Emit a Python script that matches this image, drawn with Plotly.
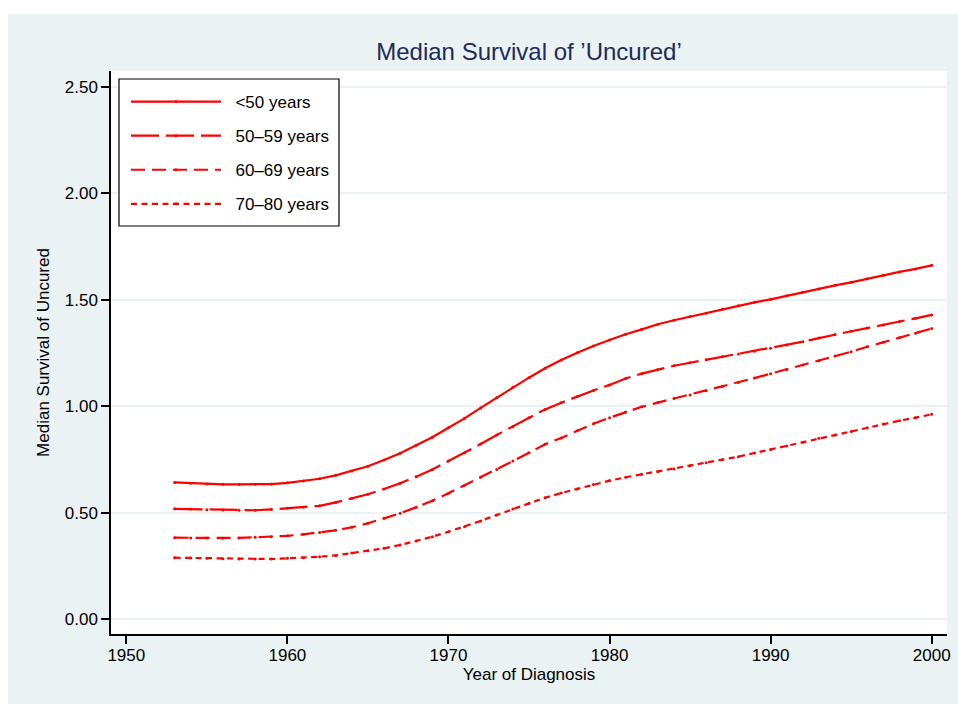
import plotly.graph_objects as go

years = list(range(1953, 2001))

under50 = [0.642, 0.638, 0.634, 0.633, 0.633, 0.633, 0.634, 0.640, 0.648, 0.659,
           0.675, 0.695, 0.718, 0.747, 0.779, 0.816, 0.854, 0.899, 0.943, 0.992,
           1.040, 1.089, 1.134, 1.178, 1.217, 1.251, 1.283, 1.311, 1.338, 1.361,
           1.385, 1.404, 1.421, 1.437, 1.455, 1.472, 1.488, 1.502, 1.519, 1.535,
           1.551, 1.568, 1.582, 1.599, 1.615, 1.631, 1.645, 1.662]

age50_59 = [0.518, 0.517, 0.514, 0.512, 0.511, 0.511, 0.515, 0.520, 0.525, 0.532,
            0.548, 0.566, 0.586, 0.611, 0.638, 0.669, 0.703, 0.742, 0.781, 0.822,
            0.865, 0.904, 0.946, 0.985, 1.016, 1.046, 1.074, 1.100, 1.130, 1.153,
            1.173, 1.190, 1.204, 1.218, 1.232, 1.245, 1.258, 1.272, 1.287, 1.303,
            1.320, 1.337, 1.352, 1.367, 1.381, 1.398, 1.413, 1.429]

age60_69 = [0.382, 0.381, 0.381, 0.380, 0.381, 0.384, 0.387, 0.391, 0.398, 0.406,
            0.417, 0.431, 0.450, 0.473, 0.497, 0.525, 0.556, 0.591, 0.628, 0.666,
            0.703, 0.742, 0.781, 0.821, 0.851, 0.885, 0.918, 0.946, 0.973, 0.997,
            1.017, 1.036, 1.053, 1.073, 1.092, 1.111, 1.132, 1.153, 1.173, 1.194,
            1.214, 1.236, 1.256, 1.279, 1.300, 1.322, 1.343, 1.365]

age70_80 = [0.288, 0.287, 0.285, 0.283, 0.282, 0.282, 0.282, 0.285, 0.288, 0.293,
            0.299, 0.310, 0.321, 0.332, 0.348, 0.367, 0.387, 0.410, 0.434, 0.461,
            0.489, 0.517, 0.544, 0.570, 0.592, 0.611, 0.632, 0.650, 0.666, 0.680,
            0.692, 0.705, 0.720, 0.734, 0.748, 0.763, 0.780, 0.797, 0.813, 0.830,
            0.849, 0.865, 0.881, 0.899, 0.916, 0.932, 0.946, 0.962]

series_names = ["<50 years", "50\u201359 years", "60\u201369 years", "70\u201380 years"]
series_values = [under50, age50_59, age60_69, age70_80]
dashes = ["solid", "28px,7px", "14px,7px", "6px,4.5px"]

xticks = [1950, 1960, 1970, 1980, 1990, 2000]
yticks = [0.0, 0.5, 1.0, 1.5, 2.0, 2.5]
ytick_labels = ["0.00", "0.50", "1.00", "1.50", "2.00", "2.50"]

FONT = "Liberation Sans, Arial, sans-serif"
RED = "#FF0000"

fig = go.Figure()
for name, vals, dash in zip(series_names, series_values, dashes):
    fig.add_trace(go.Scatter(
        x=years, y=vals, name="\u00a0\u00a0" + name, mode="lines+markers",
        line=dict(color=RED, width=2.2, dash=dash),
        marker=dict(color=RED, size=3),
        legendgroup=name,
    ))

L, R, T, B = 111, 11, 71, 70
W, H = 958, 704
pw, ph = W - L - R, H - T - B


def px_x(p):
    return (p - L) / pw


def px_y(p):
    return (H - B - p) / ph


# outer background panel
fig.add_shape(type="rect", xref="paper", yref="paper",
              x0=px_x(8), x1=px_x(W), y0=px_y(H), y1=px_y(14),
              fillcolor="#EAF2F3", line=dict(width=0), layer="below")
# white plot region
fig.add_shape(type="rect", xref="paper", yref="paper",
              x0=0, x1=1, y0=0, y1=1,
              fillcolor="white", line=dict(width=0), layer="below")
# legend frame
fig.add_shape(type="rect", xref="paper", yref="paper",
              x0=px_x(119), x1=px_x(339), y0=px_y(226), y1=px_y(79),
              fillcolor="white", line=dict(width=1.2, color="#000000"), layer="above")

fig.update_layout(
    width=W, height=H,
    margin=dict(l=L, r=R, t=T, b=B, autoexpand=False),
    paper_bgcolor="white",
    plot_bgcolor="white",
    font=dict(family=FONT, size=17, color="#000000"),
    title=dict(text="Median Survival of \u2019Uncured\u2019", x=(L + pw / 2) / W, xanchor="center",
               y=1 - 52 / H, yanchor="middle",
               font=dict(family=FONT, size=24, color="#1E2A5A")),
    legend=dict(x=px_x(126), y=px_y(84), xanchor="left", yanchor="top",
                bgcolor="rgba(0,0,0,0)", borderwidth=0,
                itemwidth=90, tracegroupgap=9,
                font=dict(family=FONT, size=17, color="#000000")),
    showlegend=True,
)

fig.update_xaxes(
    range=[1949.05, 2000.95], tickvals=xticks, ticktext=[str(v) for v in xticks],
    showgrid=False, zeroline=False,
    showline=True, linecolor="#000000", linewidth=1.5,
    ticks="outside", ticklen=8, tickwidth=1.5, tickcolor="#000000",
    ticklabelstandoff=-3,
    tickfont=dict(family=FONT, size=17, color="#000000"),
    title=dict(text="Year of Diagnosis", standoff=4, font=dict(family=FONT, size=17, color="#000000")),
)
fig.update_yaxes(
    range=[-0.0704, 2.575], tickvals=yticks, ticktext=ytick_labels,
    showgrid=True, gridcolor="#EAF2F3", gridwidth=2, zeroline=False,
    showline=True, linecolor="#000000", linewidth=1.5,
    ticks="outside", ticklen=8, tickwidth=1.5, tickcolor="#000000",
    tickfont=dict(family=FONT, size=17, color="#000000"),
    title=dict(text="Median Survival of Uncured", standoff=11, font=dict(family=FONT, size=17, color="#000000")),
)

fig.write_html("out.html")
